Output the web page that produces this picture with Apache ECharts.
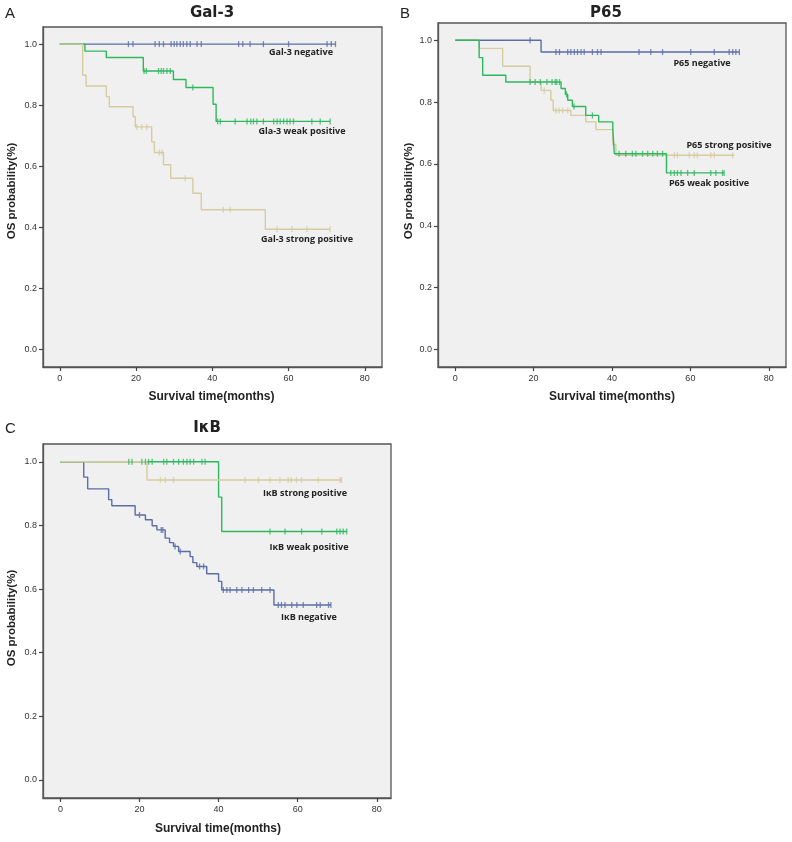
<!DOCTYPE html>
<html><head><meta charset="utf-8">
<script src="https://cdn.jsdelivr.net/npm/echarts@6/dist/echarts.min.js"></script>
<style>html,body{margin:0;padding:0;background:#fff}#c{width:792px;height:842px}</style>
</head><body><div id="c"></div>
<script>
// ---------- DATA ----------
const xTicks = [0, 20, 40, 60, 80];
const yTicks = [0, 0.2, 0.4, 0.6, 0.8, 1.0];

// Panel A: Gal-3
const galNegT = [0, 72.3];
const galNegS = [1.0, 1.0];
const galNegCens = [18.0, 19.2, 25.0, 26.1, 27.2, 29.2, 30.0, 30.7, 31.6, 32.4, 33.3, 34.2, 36.0, 37.1, 46.9, 48.0, 49.9, 53.4, 60.0, 70.1, 71.2, 72.3];
const galWeakT = [0, 6.6, 12.2, 21.9, 29.8, 33.1, 40.2, 41.0, 70.9];
const galWeakS = [1.0, 0.977, 0.956, 0.912, 0.884, 0.858, 0.803, 0.747, 0.747];
const galWeakCens = [22.1, 22.7, 25.9, 26.6, 27.2, 28.1, 29.0, 34.9, 41.4, 42.1, 46.0, 49.1, 50.1, 50.8, 51.7, 53.4, 56.1, 57.0, 57.8, 58.7, 59.6, 60.4, 61.3, 66.1, 68.3, 70.9];
const galStrongT = [0, 6.0, 6.9, 12.2, 13.0, 19.2, 19.8, 24.1, 24.8, 27.2, 29.1, 34.9, 37.1, 53.9, 70.9];
const galStrongS = [1.0, 0.898, 0.863, 0.828, 0.795, 0.763, 0.729, 0.680, 0.645, 0.605, 0.561, 0.512, 0.458, 0.394, 0.394];
const galStrongCens = [20.2, 21.5, 22.8, 26.1, 26.8, 32.9, 42.9, 44.7, 57.0, 60.9, 64.8, 70.9];

// Panel B: P65
const p65NegT = [0, 21.9, 72.5];
const p65NegS = [1.0, 0.962, 0.962];
const p65NegCens = [19.1, 25.7, 26.6, 28.7, 29.5, 30.4, 31.2, 32.1, 32.9, 35.0, 36.3, 37.2, 46.9, 49.9, 52.9, 60.1, 66.1, 69.9, 70.8, 71.6, 72.5];
const p65WeakT = [0, 6.1, 7.0, 12.9, 27.0, 28.1, 28.7, 29.9, 33.3, 36.6, 40.2, 40.6, 53.9, 68.6];
const p65WeakS = [1.0, 0.944, 0.887, 0.865, 0.844, 0.825, 0.806, 0.786, 0.757, 0.736, 0.711, 0.633, 0.571, 0.571];
const p65WeakCens = [19.1, 20.4, 21.7, 23.4, 24.7, 25.5, 25.9, 26.6, 28.4, 30.3, 35.0, 41.8, 43.5, 45.2, 46.1, 47.8, 49.1, 50.4, 51.6, 52.9, 55.0, 55.9, 56.7, 57.6, 59.3, 61.0, 65.2, 66.5, 68.2, 68.6];
const p65StrongT = [0, 6.1, 12.1, 19.1, 21.9, 24.4, 25.0, 29.5, 33.3, 35.9, 40.2, 41.0, 71.2];
const p65StrongS = [1.0, 0.974, 0.916, 0.865, 0.838, 0.806, 0.773, 0.757, 0.736, 0.711, 0.663, 0.628, 0.628];
const p65StrongCens = [22.7, 25.7, 26.5, 27.4, 28.7, 55.9, 56.7, 59.7, 61.0, 61.8, 65.2, 66.1, 70.8];

// Panel C: IkB
const ikbNegT = [0, 5.9, 6.9, 12.2, 13.0, 18.9, 21.5, 23.2, 24.4, 26.5, 27.6, 28.6, 29.9, 32.8, 33.5, 34.5, 37.0, 40.0, 40.8, 54.0, 68.4];
const ikbNegS = [1.0, 0.952, 0.915, 0.881, 0.862, 0.833, 0.818, 0.799, 0.786, 0.760, 0.746, 0.734, 0.718, 0.702, 0.683, 0.671, 0.648, 0.624, 0.597, 0.550, 0.550];
const ikbNegCens = [20.0, 25.5, 25.9, 29.0, 30.3, 35.2, 36.2, 41.2, 42.1, 42.9, 44.6, 45.9, 47.6, 48.8, 50.9, 53.0, 55.1, 55.9, 56.8, 58.5, 59.8, 61.4, 64.8, 65.7, 67.8, 68.4];
const ikbWeakT = [0, 40.0, 40.8, 72.4];
const ikbWeakS = [1.0, 0.889, 0.781, 0.781];
const ikbWeakCens = [17.3, 18.1, 20.6, 21.5, 22.3, 23.2, 26.1, 26.9, 28.6, 29.9, 31.1, 32.0, 32.8, 33.7, 35.8, 36.6, 53.0, 56.8, 61.0, 66.1, 69.9, 70.7, 71.5, 72.4];
const ikbStrongT = [0, 21.9, 71.1];
const ikbStrongS = [1.0, 0.943, 0.943];
const ikbStrongCens = [25.3, 26.5, 28.6, 46.7, 50.1, 53.0, 55.5, 57.6, 58.4, 59.7, 61.0, 65.2, 70.7, 71.1];

// ---------- STYLE ----------
const BLUE = '#5a6ea6', GREEN = '#2db85e', BEIGE = '#d5cc9f';
const panels = [
  {grid:{left:43, top:27, width:339, height:340}, xMax:84.5, letter:'A', title:'Gal-3', lx:5, ly:6, tx:212, ty:13, yn:[12,191], xn:[211.5,397],
   curves:[[galNegT,galNegS,galNegCens,BLUE],[galWeakT,galWeakS,galWeakCens,GREEN],[galStrongT,galStrongS,galStrongCens,BEIGE]],
   labels:[['Gal-3 negative',301,52],['Gla-3 weak positive',302,131],['Gal-3 strong positive',307,239]]},
  {grid:{left:438, top:23, width:348, height:344}, xMax:84.4, letter:'B', title:'P65', lx:400, ly:6, tx:606, ty:13, yn:[409,191], xn:[612,397],
   curves:[[p65NegT,p65NegS,p65NegCens,BLUE],[p65StrongT,p65StrongS,p65StrongCens,BEIGE],[p65WeakT,p65WeakS,p65WeakCens,GREEN]],
   labels:[['P65 negative',702,63],['P65 strong positive',729,145],['P65 weak positive',709,183]]},
  {grid:{left:43, top:444, width:348, height:354}, xMax:83.6, letter:'C', title:'I\u03BAB', lx:5, ly:421, tx:207, ty:428, yn:[12,618], xn:[218,829],
   curves:[[ikbNegT,ikbNegS,ikbNegCens,BLUE],[ikbWeakT,ikbWeakS,ikbWeakCens,GREEN],[ikbStrongT,ikbStrongS,ikbStrongCens,BEIGE]],
   labels:[['I\u03BAB strong positive',305,493],['I\u03BAB weak positive',309,547],['I\u03BAB negative',309,617]]}
];

function survAt(T, S, t){ let v = S[0]; for (let i=0;i<T.length;i++){ if (T[i] <= t) v = S[i]; } return v; }

const grids = [], xAxes = [], yAxes = [], lineSeries = [], censSeries = [], graphics = [];
panels.forEach((p, gi) => {
  grids.push(Object.assign({show:true, backgroundColor:'#f0f0f0', borderColor:'#555', borderWidth:1.3}, p.grid));
  xAxes.push({type:'value', gridIndex:gi, min:-4.4, max:p.xMax,
    axisLine:{show:true, onZero:false, lineStyle:{color:'#555', width:1.3}},
    axisTick:{show:true, length:4, customValues:xTicks, lineStyle:{color:'#444', width:1.2}},
    axisLabel:{customValues:xTicks, margin:7, fontSize:9, color:'#333', fontFamily:'Liberation Sans'},
    splitLine:{show:false}});
  yAxes.push({type:'value', gridIndex:gi, min:-0.057, max:1.056,
    axisLine:{show:true, onZero:false, lineStyle:{color:'#555', width:1.3}},
    axisTick:{show:true, length:4, customValues:yTicks, lineStyle:{color:'#444', width:1.2}},
    axisLabel:{customValues:yTicks, margin:6, fontSize:9, color:'#333', fontFamily:'Liberation Sans', formatter:v=>v.toFixed(1)},
    splitLine:{show:false}});
  p.curves.forEach(([T,S,C,col]) => {
    lineSeries.push({type:'line', xAxisIndex:gi, yAxisIndex:gi, step:'end', showSymbol:false, silent:true, animation:false,
      lineStyle:{color:col, width:1.4}, data:T.map((t,i)=>[t,S[i]])});
    censSeries.push({type:'scatter', xAxisIndex:gi, yAxisIndex:gi, symbol:'rect', symbolSize:[1.3,6], silent:true, animation:false, z:3,
      itemStyle:{color:col}, data:C.map(t=>[t, survAt(T,S,t)])});
  });
  graphics.push({type:'text', left:p.lx, top:p.ly, style:{text:p.letter, font:'15px "Liberation Sans"', fill:'#222'}});
  graphics.push({type:'text', x:p.tx, y:p.ty, style:{text:p.title, font:'bold 15px "DejaVu Sans"', fill:'#222', align:'center', verticalAlign:'middle'}});
  graphics.push({type:'text', x:p.yn[0], y:p.yn[1], rotation:Math.PI/2, style:{text:'OS probability(%)', font:'bold 11.5px "Liberation Sans"', fill:'#222', align:'center', verticalAlign:'middle'}});
  graphics.push({type:'text', x:p.xn[0], y:p.xn[1], style:{text:'Survival time(months)', font:'bold 12px "Liberation Sans"', fill:'#222', align:'center', verticalAlign:'middle'}});
  p.labels.forEach(([t,x,y]) => graphics.push({type:'text', x:x, y:y, z:100, style:{text:t, font:'bold 9px "Open Sans"', fill:'#222', align:'center', verticalAlign:'middle'}}));
});

const chart = echarts.init(document.getElementById('c'), null, {renderer:'canvas'});
chart.setOption({animation:false, backgroundColor:'#fff', grid:grids, xAxis:xAxes, yAxis:yAxes, series:lineSeries.concat(censSeries), graphic:graphics});
</script></body></html>
